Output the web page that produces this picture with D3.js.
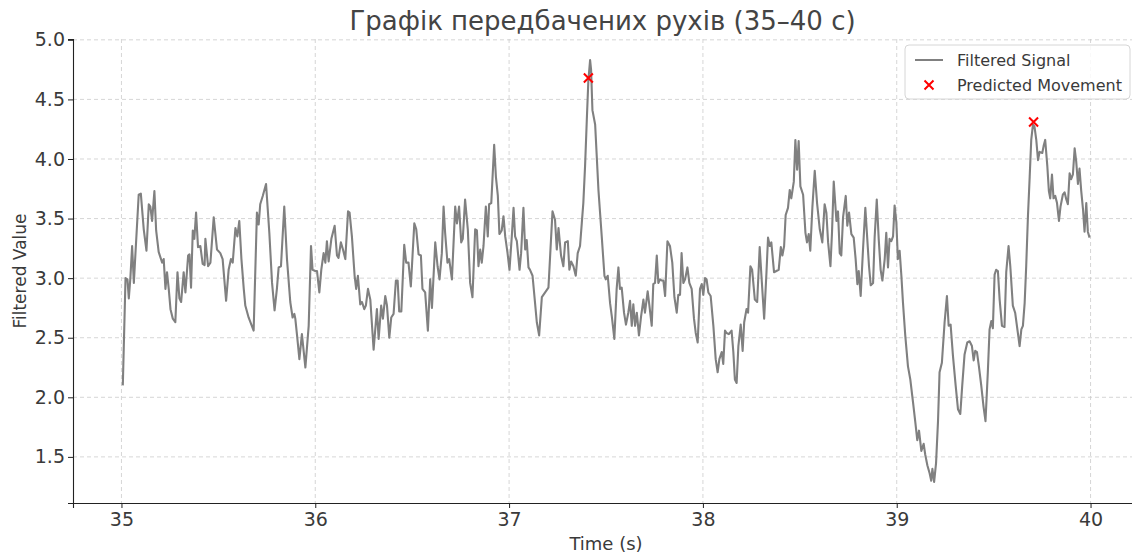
<!DOCTYPE html>
<html>
<head>
<meta charset="utf-8">
<script src="https://cdn.jsdelivr.net/npm/d3@7"></script>
<style>
  html, body { margin: 0; padding: 0; background: #fff; }
  svg { display: block; font-family: "DejaVu Sans", sans-serif; }
</style>
</head>
<body>
<div id="chart"></div>
<script>
// ── Data ─────────────────────────────────────────────────────
const TIMES = [
  35.007, 35.021, 35.031, 35.038, 35.046, 35.055, 35.064, 35.072, 35.089, 35.100,
  35.115, 35.129, 35.141, 35.149, 35.158, 35.170, 35.179, 35.192, 35.210, 35.218,
  35.227, 35.235, 35.244, 35.253, 35.265, 35.278, 35.289, 35.299, 35.308, 35.321,
  35.330, 35.344, 35.351, 35.359, 35.368, 35.376, 35.385, 35.395, 35.407, 35.419,
  35.429, 35.433, 35.447, 35.459, 35.476, 35.493, 35.510, 35.522, 35.540, 35.553,
  35.565, 35.574, 35.588, 35.598, 35.608, 35.619, 35.631, 35.639, 35.656, 35.682,
  35.699, 35.708, 35.716, 35.729, 35.746, 35.763, 35.777, 35.790, 35.802, 35.811,
  35.823, 35.840, 35.854, 35.871, 35.883, 35.892, 35.897, 35.906, 35.918, 35.931,
  35.949, 35.966, 35.978, 35.986, 36.000, 36.009, 36.021, 36.031, 36.043, 36.052,
  36.060, 36.069, 36.083, 36.100, 36.112, 36.120, 36.132, 36.143, 36.155, 36.169,
  36.177, 36.189, 36.203, 36.211, 36.220, 36.232, 36.241, 36.253, 36.261, 36.272,
  36.284, 36.301, 36.318, 36.327, 36.340, 36.349, 36.361, 36.370, 36.382, 36.392,
  36.404, 36.416, 36.425, 36.433, 36.444, 36.459, 36.469, 36.481, 36.493, 36.511,
  36.521, 36.533, 36.545, 36.553, 36.567, 36.581, 36.593, 36.602, 36.619, 36.631,
  36.641, 36.653, 36.662, 36.670, 36.682, 36.691, 36.705, 36.722, 36.731, 36.742,
  36.753, 36.761, 36.773, 36.787, 36.799, 36.811, 36.825, 36.834, 36.842, 36.851,
  36.859, 36.868, 36.880, 36.890, 36.897, 36.908, 36.923, 36.932, 36.942, 36.950,
  36.962, 36.971, 36.980, 36.992, 37.002, 37.014, 37.023, 37.031, 37.040, 37.054,
  37.062, 37.074, 37.083, 37.091, 37.100, 37.108, 37.121, 37.134, 37.143, 37.155,
  37.169, 37.186, 37.203, 37.224, 37.237, 37.246, 37.255, 37.268, 37.280, 37.289,
  37.303, 37.311, 37.320, 37.332, 37.344, 37.354, 37.366, 37.375, 37.383, 37.392,
  37.401, 37.409, 37.418, 37.423, 37.430, 37.444, 37.461, 37.478, 37.492, 37.499,
  37.509, 37.521, 37.530, 37.543, 37.555, 37.564, 37.572, 37.581, 37.593, 37.603,
  37.615, 37.624, 37.633, 37.641, 37.650, 37.659, 37.670, 37.681, 37.693, 37.701,
  37.715, 37.724, 37.736, 37.744, 37.753, 37.762, 37.770, 37.779, 37.787, 37.796,
  37.805, 37.817, 37.830, 37.842, 37.853, 37.865, 37.873, 37.882, 37.890, 37.899,
  37.908, 37.920, 37.930, 37.942, 37.954, 37.963, 37.973, 37.985, 37.994, 38.002,
  38.011, 38.019, 38.028, 38.040, 38.054, 38.066, 38.076, 38.085, 38.097, 38.105,
  38.114, 38.122, 38.134, 38.148, 38.157, 38.165, 38.174, 38.183, 38.195, 38.205,
  38.213, 38.225, 38.233, 38.245, 38.254, 38.268, 38.280, 38.293, 38.302, 38.316,
  38.328, 38.336, 38.345, 38.353, 38.367, 38.379, 38.391, 38.402, 38.410, 38.419,
  38.427, 38.439, 38.448, 38.456, 38.469, 38.477, 38.486, 38.494, 38.503, 38.517,
  38.529, 38.537, 38.546, 38.554, 38.565, 38.577, 38.589, 38.603, 38.616, 38.628,
  38.637, 38.646, 38.658, 38.666, 38.675, 38.689, 38.697, 38.706, 38.714, 38.723,
  38.737, 38.745, 38.754, 38.766, 38.778, 38.788, 38.797, 38.804, 38.814, 38.826,
  38.838, 38.848, 38.857, 38.866, 38.878, 38.886, 38.897, 38.907, 38.917, 38.926,
  38.938, 38.946, 38.955, 38.963, 38.972, 38.981, 38.989, 38.998, 39.006, 39.015,
  39.024, 39.032, 39.044, 39.058, 39.070, 39.084, 39.096, 39.106, 39.115, 39.127,
  39.139, 39.147, 39.158, 39.170, 39.178, 39.184, 39.193, 39.203, 39.213, 39.221,
  39.233, 39.247, 39.259, 39.268, 39.278, 39.290, 39.304, 39.316, 39.328, 39.338,
  39.350, 39.364, 39.376, 39.388, 39.397, 39.405, 39.414, 39.424, 39.436, 39.448,
  39.458, 39.470, 39.479, 39.488, 39.496, 39.505, 39.513, 39.522, 39.531, 39.543,
  39.556, 39.565, 39.577, 39.586, 39.599, 39.611, 39.625, 39.634, 39.643, 39.651,
  39.660, 39.668, 39.677, 39.686, 39.694, 39.703, 39.711, 39.720, 39.729, 39.737,
  39.751, 39.758, 39.766, 39.777, 39.785, 39.792, 39.801, 39.809, 39.818, 39.827,
  39.837, 39.845, 39.857, 39.866, 39.875, 39.883, 39.892, 39.900, 39.909, 39.918,
  39.926, 39.935, 39.943, 39.952, 39.961, 39.969, 39.978, 39.986, 39.995
];

const VALUES = [
  2.10, 3.00, 2.99, 2.83, 3.00, 3.27, 2.96, 3.20, 3.70, 3.71,
  3.41, 3.23, 3.62, 3.60, 3.48, 3.73, 3.40, 3.22, 3.13, 3.16,
  2.91, 3.05, 2.91, 2.74, 2.66, 2.63, 3.05, 2.83, 2.80, 3.05,
  2.88, 3.19, 3.20, 2.92, 3.40, 3.33, 3.55, 3.26, 3.27, 3.12,
  3.11, 3.33, 3.10, 3.13, 3.51, 3.24, 3.21, 3.16, 2.81, 3.07,
  3.16, 3.13, 3.42, 3.35, 3.48, 3.16, 2.91, 2.77, 2.67, 2.56,
  3.55, 3.45, 3.62, 3.69, 3.79, 3.38, 2.96, 2.73, 2.91, 3.09,
  3.10, 3.60, 3.16, 2.80, 2.67, 2.70, 2.66, 2.52, 2.32, 2.53,
  2.25, 2.60, 3.27, 3.07, 3.06, 3.06, 2.88, 3.07, 3.21, 3.13,
  3.31, 3.14, 3.33, 3.44, 3.19, 3.17, 3.30, 3.24, 3.16, 3.56,
  3.55, 3.35, 3.02, 2.91, 3.02, 2.78, 2.80, 2.74, 2.77, 2.91,
  2.82, 2.40, 2.74, 2.49, 2.77, 2.66, 2.85, 2.77, 2.50, 2.67,
  2.70, 2.98, 2.98, 2.72, 2.72, 3.28, 3.13, 3.13, 2.93, 3.46,
  3.41, 3.20, 3.19, 2.91, 2.88, 2.56, 2.99, 2.75, 3.30, 3.10,
  2.99, 3.21, 3.60, 3.38, 3.13, 3.16, 2.99, 3.60, 3.46, 3.60,
  3.30, 3.33, 3.66, 3.41, 2.96, 2.84, 3.41, 3.40, 3.10, 3.24,
  3.13, 3.27, 3.60, 3.35, 3.62, 3.63, 4.12, 3.85, 3.69, 3.37,
  3.40, 3.52, 3.35, 3.21, 3.07, 3.35, 3.59, 3.35, 3.31, 3.07,
  3.21, 3.59, 3.24, 3.32, 3.09, 3.07, 3.02, 2.79, 2.63, 2.52,
  2.84, 2.88, 2.92, 3.56, 3.49, 3.24, 3.42, 3.19, 3.10, 3.30,
  3.31, 3.07, 3.14, 3.10, 3.02, 3.21, 3.27, 3.46, 3.63, 3.94,
  4.33, 4.66, 4.83, 4.75, 4.41, 4.29, 3.74, 3.35, 3.02, 2.99,
  3.02, 2.79, 2.68, 2.49, 2.91, 3.09, 2.91, 2.92, 2.71, 2.61,
  2.71, 2.81, 2.60, 2.78, 2.60, 2.71, 2.52, 2.68, 2.82, 2.71,
  2.89, 2.77, 2.60, 2.95, 2.96, 3.19, 2.96, 2.99, 2.98, 2.98,
  2.85, 3.31, 3.27, 3.13, 2.84, 2.71, 2.86, 2.86, 3.21, 2.96,
  2.99, 3.09, 2.96, 2.91, 2.66, 2.54, 2.46, 2.91, 2.95, 2.86,
  3.00, 2.99, 2.88, 2.85, 2.60, 2.32, 2.21, 2.32, 2.38, 2.28,
  2.56, 2.54, 2.53, 2.56, 2.38, 2.15, 2.12, 2.43, 2.61, 2.39,
  2.63, 2.74, 2.71, 3.10, 3.07, 2.82, 2.80, 3.26, 3.02, 2.66,
  3.05, 3.34, 3.27, 3.30, 3.05, 3.06, 3.07, 3.26, 3.19, 3.27,
  3.53, 3.59, 3.74, 3.67, 3.81, 4.16, 3.91, 4.15, 3.77, 3.70,
  3.38, 3.30, 3.37, 3.23, 3.60, 3.90, 3.63, 3.41, 3.30, 3.62,
  3.55, 3.30, 3.10, 3.38, 3.81, 3.48, 3.56, 3.21, 3.19, 3.51,
  3.69, 3.44, 3.55, 3.37, 3.34, 3.16, 2.95, 3.06, 2.85, 3.24,
  3.59, 3.33, 3.10, 2.94, 2.96, 3.34, 3.66, 3.33, 3.07, 2.98,
  3.16, 3.38, 3.09, 3.33, 3.31, 3.35, 3.61, 3.47, 3.16, 3.23,
  3.02, 2.80, 2.52, 2.26, 2.15, 1.96, 1.79, 1.64, 1.72, 1.55,
  1.61, 1.52, 1.43, 1.36, 1.30, 1.40, 1.29, 1.45, 1.80, 2.21,
  2.29, 2.63, 2.85, 2.60, 2.61, 2.35, 2.10, 1.90, 1.86, 2.10,
  2.36, 2.46, 2.47, 2.43, 2.31, 2.39, 2.38, 2.26, 2.10, 1.92,
  1.80, 2.21, 2.57, 2.64, 2.58, 3.03, 3.07, 3.06, 2.82, 2.60,
  2.59, 3.05, 3.27, 3.10, 2.77, 2.71, 2.54, 2.43, 2.57, 2.60,
  2.79, 3.10, 3.52, 3.85, 4.16, 4.29, 4.27, 4.16, 3.99, 4.06,
  4.05, 4.11, 4.16, 3.94, 3.73, 3.67, 3.87, 3.67, 3.69, 3.63,
  3.48, 3.60, 3.70, 3.72, 3.66, 3.62, 3.88, 3.83, 3.87, 4.09,
  3.98, 3.79, 3.92, 3.73, 3.58, 3.39, 3.63, 3.39, 3.34
];

const PEAK_TIMES  = [37.409, 39.706];
const PEAK_VALUES = [4.68, 4.31];

const X_TICKS = [35, 36, 37, 38, 39, 40];
const Y_TICKS = [1.5, 2.0, 2.5, 3.0, 3.5, 4.0, 4.5, 5.0];

const TITLE   = 'Графік передбачених рухів (35–40 с)';
const X_LABEL = 'Time (s)';
const Y_LABEL = 'Filtered Value';
const LEGEND  = ['Filtered Signal', 'Predicted Movement'];

// ── Layout ───────────────────────────────────────────────────
const W = 1132, H = 554;
const plot = { left: 73, right: 1139, top: 39, bottom: 503 };
const TEXT = '#3a3a3a';

const x = d3.scaleLinear().domain([34.75, 40.25]).range([plot.left, plot.right]);
const y = d3.scaleLinear().domain([1.113, 5.007]).range([plot.bottom, plot.top]);

const svg = d3.select('#chart').append('svg')
  .attr('width', W)
  .attr('height', H);

// grid
const grid = svg.append('g').attr('stroke', '#cccccc').attr('stroke-width', 0.8)
  .attr('stroke-dasharray', '4,3');
grid.selectAll('.gx').data(X_TICKS).join('line')
  .attr('x1', d => x(d)).attr('x2', d => x(d))
  .attr('y1', plot.top).attr('y2', plot.bottom);
grid.selectAll('.gy').data(Y_TICKS).join('line')
  .attr('x1', plot.left).attr('x2', plot.right)
  .attr('y1', d => y(d)).attr('y2', d => y(d));

// signal
const series = TIMES.map((t, i) => [t, VALUES[i]]);
svg.append('path')
  .datum(series)
  .attr('fill', 'none')
  .attr('stroke', '#808080')
  .attr('stroke-width', 2.1)
  .attr('stroke-linejoin', 'round')
  .attr('d', d3.line().x(d => x(d[0])).y(d => y(d[1])));

// peaks
const xMark = s => `M${-s},${-s}L${s},${s}M${-s},${s}L${s},${-s}`;
svg.append('g').selectAll('path')
  .data(PEAK_TIMES.map((t, i) => [t, PEAK_VALUES[i]]))
  .join('path')
  .attr('transform', d => `translate(${x(d[0])},${y(d[1])})`)
  .attr('d', xMark(4.5))
  .attr('stroke', '#ff0000')
  .attr('stroke-width', 2);

// axes
const xAxis = svg.append('g')
  .attr('transform', `translate(0,${plot.bottom})`)
  .call(d3.axisBottom(x).tickValues(X_TICKS).tickFormat(d3.format('d')).tickSizeOuter(0).tickSize(5).tickPadding(5));
const yAxis = svg.append('g')
  .attr('transform', `translate(${plot.left},0)`)
  .call(d3.axisLeft(y).tickValues(Y_TICKS).tickFormat(d3.format('.1f')).tickSizeOuter(0).tickSize(5).tickPadding(3));
[xAxis, yAxis].forEach(a => {
  a.select('.domain').attr('stroke', '#222').attr('stroke-width', 1.1);
  a.selectAll('.tick line').attr('stroke', '#222');
  a.selectAll('.tick text')
    .attr('fill', TEXT)
    .attr('font-size', 19)
    .attr('font-family', '"DejaVu Sans", sans-serif');
});

// labels
svg.append('text')
  .attr('x', (plot.left + W) / 2).attr('y', 30)
  .attr('text-anchor', 'middle')
  .attr('font-size', 26)
  .attr('fill', '#444')
  .text(TITLE);

svg.append('text')
  .attr('x', x(37.5)).attr('y', 550)
  .attr('text-anchor', 'middle')
  .attr('font-size', 18)
  .attr('fill', TEXT)
  .text(X_LABEL);

svg.append('text')
  .attr('transform', `translate(26,${(plot.top + plot.bottom) / 2}) rotate(-90)`)
  .attr('text-anchor', 'middle')
  .attr('font-size', 17)
  .attr('fill', TEXT)
  .text(Y_LABEL);

// legend
const lg = svg.append('g').attr('transform', 'translate(905,45)');
lg.append('rect')
  .attr('width', 225).attr('height', 54).attr('rx', 4)
  .attr('fill', '#fff').attr('fill-opacity', 0.85)
  .attr('stroke', '#d6d6d6');
lg.append('line')
  .attr('x1', 10).attr('x2', 38).attr('y1', 15).attr('y2', 15)
  .attr('stroke', '#808080').attr('stroke-width', 2);
lg.append('path')
  .attr('transform', 'translate(24,40)')
  .attr('d', xMark(4.5))
  .attr('stroke', '#ff0000').attr('stroke-width', 2);
lg.selectAll('text.leg').data(LEGEND).join('text')
  .attr('x', 52).attr('y', (d, i) => 21 + i * 25)
  .attr('font-size', 16)
  .attr('fill', TEXT)
  .text(d => d);
</script>
</body>
</html>
